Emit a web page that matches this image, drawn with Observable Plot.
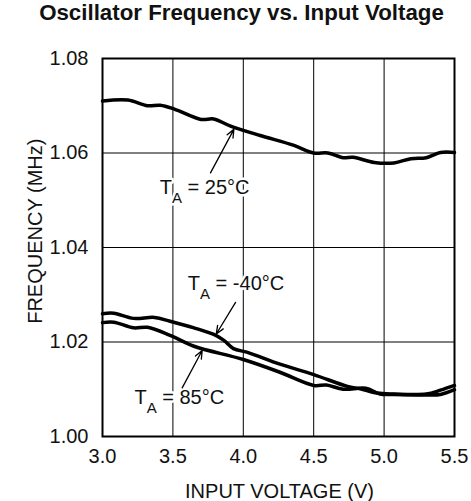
<!DOCTYPE html>
<html>
<head>
<meta charset="utf-8">
<script src="https://cdn.jsdelivr.net/npm/d3@7"></script>
<script src="https://cdn.jsdelivr.net/npm/@observablehq/plot@0.6"></script>
<style>
  body { margin: 0; background: #fff; }
  #title {
    box-sizing: border-box; width: 471px; height: 40px; line-height: 38px;
    padding-left: 12px; text-align: center; color: #111;
    font: bold 22.3px "Liberation Sans", Arial, Helvetica, sans-serif;
  }
</style>
</head>
<body>
<div id="title">Oscillator Frequency vs. Input Voltage</div>
<div id="chart"></div>
<script>
// ---- data ----
const xTicks = [3.0, 3.5, 4.0, 4.5, 5.0, 5.5];
const yTicks = [1.00, 1.02, 1.04, 1.06, 1.08];
const xLabel = "INPUT VOLTAGE (V)";
const yLabel = "FREQUENCY (MHz)";

const voltage25 = [3.00, 3.18, 3.32, 3.41, 3.51, 3.70, 3.79, 3.91, 4.12, 4.36, 4.50, 4.60, 4.71, 4.78, 4.93, 5.07, 5.19, 5.30, 5.40, 5.50];
const freq25    = [1.0710, 1.0712, 1.0700, 1.0701, 1.0693, 1.0671, 1.0672, 1.0657, 1.0637, 1.0616, 1.0600, 1.0600, 1.0590, 1.0591, 1.0580, 1.0579, 1.0588, 1.0590, 1.0601, 1.0601];

const voltageM40 = [3.00, 3.08, 3.22, 3.37, 3.48, 3.65, 3.79, 3.86, 3.93, 4.03, 4.26, 4.50, 4.74, 4.83, 4.95, 5.07, 5.30, 5.40, 5.50];
const freqM40    = [1.0260, 1.0261, 1.0250, 1.0252, 1.0244, 1.0230, 1.0216, 1.0204, 1.0186, 1.0178, 1.0153, 1.0131, 1.0106, 1.0101, 1.0092, 1.0090, 1.0090, 1.0098, 1.0108];

const voltage85 = [3.00, 3.08, 3.22, 3.32, 3.48, 3.65, 4.00, 4.26, 4.50, 4.59, 4.71, 4.87, 4.97, 5.07, 5.30, 5.40, 5.50];
const freq85    = [1.0241, 1.0242, 1.0230, 1.0231, 1.0214, 1.0191, 1.0163, 1.0136, 1.0108, 1.0109, 1.0100, 1.0102, 1.0090, 1.0089, 1.0088, 1.0089, 1.0099];

const labelTemps = ["25°C", "-40°C", "85°C"];
const labelX     = [3.407, 3.606, 3.227];
const labelY     = [1.0514, 1.0309, 1.0069];

const arrowX1 = [3.767, 3.945, 3.566];
const arrowY1 = [1.0558, 1.0284, 1.0103];
const arrowX2 = [3.933, 3.808, 3.708];
const arrowY2 = [1.0650, 1.0217, 1.0182];

// ---- tables built from the arrays ----
const series = [
  {temp: "25", v: voltage25, f: freq25},
  {temp: "-40", v: voltageM40, f: freqM40},
  {temp: "85", v: voltage85, f: freq85}
];
const rows = series.flatMap(s => s.v.map((v, i) => ({temp: s.temp, v, f: s.f[i]})));
const labels = labelTemps.map((t, i) => ({text: "TA = " + t, x: labelX[i], y: labelY[i]}));
const arrows = arrowX1.map((x1, i) => ({x1, y1: arrowY1[i], x2: arrowX2[i], y2: arrowY2[i]}));

const font = '"Liberation Sans", Arial, Helvetica, sans-serif';

const chart = Plot.plot({
  width: 471,
  height: 461,
  marginTop: 18,
  marginBottom: 65,
  marginLeft: 102,
  marginRight: 17,
  style: {fontFamily: font, fontSize: "20px", color: "#111", background: "#fff", overflow: "visible"},
  x: {domain: [3, 5.5]},
  y: {domain: [1.0, 1.08]},
  marks: [
    Plot.gridX(xTicks.slice(1, -1), {stroke: "#000", strokeOpacity: 1, strokeWidth: 1}),
    Plot.gridY(yTicks.slice(1, -1), {stroke: "#000", strokeOpacity: 1, strokeWidth: 1}),
    Plot.axisX(xTicks, {tickSize: 0, tickPadding: 12, tickFormat: d => d.toFixed(1), label: null, fontSize: 20}),
    Plot.axisY(yTicks, {tickSize: 0, tickPadding: 14, tickFormat: d => d.toFixed(2), label: null, fontSize: 20}),
    Plot.text([yLabel], {frameAnchor: "left", textAnchor: "middle", rotate: -90, dx: -66.5, dy: -16.3, fontSize: 20}),
    Plot.text([xLabel], {frameAnchor: "bottom", textAnchor: "middle", dx: 1, dy: 61, lineAnchor: "bottom", fontSize: 20}),
    Plot.text(labels, {x: "x", y: "y", text: "text", textAnchor: "start", lineAnchor: "bottom",
      fontSize: 20, fill: "#111", stroke: "#fff", strokeWidth: 5, paintOrder: "stroke"}),
    Plot.line(rows, {x: "v", y: "f", z: "temp", stroke: "#000", strokeWidth: 3.5, curve: "catmull-rom"}),
    Plot.arrow(arrows, {x1: "x1", y1: "y1", x2: "x2", y2: "y2", stroke: "#000", strokeWidth: 1.3, headLength: 10, headAngle: 45}),
    Plot.frame({stroke: "#000", strokeWidth: 2})
  ]
});

// subscript "A" in the T_A labels
d3.select(chart).selectAll("text").each(function () {
  const s = this.textContent;
  if (!s.startsWith("TA = ")) return;
  const rest = s.slice(2);
  const sel = d3.select(this);
  sel.text(null);
  sel.append("tspan").text("T");
  sel.append("tspan").attr("font-size", 15).attr("dy", 9).text("A");
  sel.append("tspan").attr("font-size", 20).attr("dy", -9).text(rest);
});

document.getElementById("chart").appendChild(chart);
</script>
</body>
</html>
